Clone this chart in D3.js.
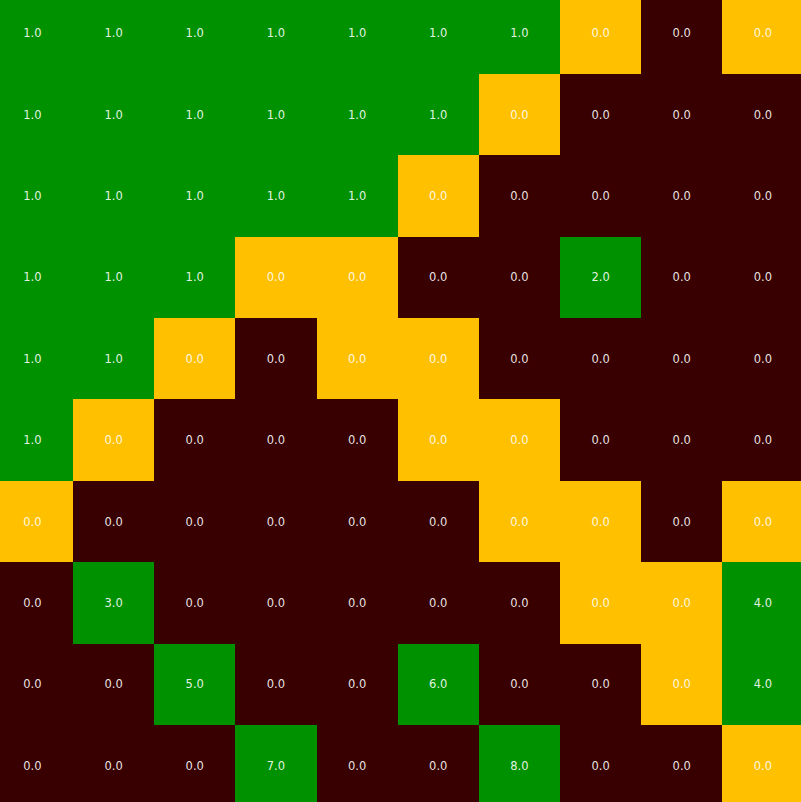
<!DOCTYPE html>
<html>
<head>
<meta charset="utf-8">
<script src="https://cdn.jsdelivr.net/npm/d3@7"></script>
<style>
  html, body { margin: 0; padding: 0; background: #ffffff; overflow: hidden; }
  svg { display: block; }
</style>
</head>
<body>
<svg id="chart" width="801" height="802"></svg>
<script>
// Cell values (row by row, top to bottom)
const values = [
  [1,1,1,1,1,1,1,0,0,0],
  [1,1,1,1,1,1,0,0,0,0],
  [1,1,1,1,1,0,0,0,0,0],
  [1,1,1,0,0,0,0,2,0,0],
  [1,1,0,0,0,0,0,0,0,0],
  [1,0,0,0,0,0,0,0,0,0],
  [0,0,0,0,0,0,0,0,0,0],
  [0,3,0,0,0,0,0,0,0,4],
  [0,0,5,0,0,6,0,0,0,4],
  [0,0,0,7,0,0,8,0,0,0]
];
// Cell state: "g" = filled (green), "y" = frontier (amber), "d" = empty (dark)
const states = [
  ["g","g","g","g","g","g","g","y","d","y"],
  ["g","g","g","g","g","g","y","d","d","d"],
  ["g","g","g","g","g","y","d","d","d","d"],
  ["g","g","g","y","y","d","d","g","d","d"],
  ["g","g","y","d","y","y","d","d","d","d"],
  ["g","y","d","d","d","y","y","d","d","d"],
  ["y","d","d","d","d","d","y","y","d","y"],
  ["d","g","d","d","d","d","d","y","y","g"],
  ["d","d","g","d","d","g","d","d","y","g"],
  ["d","d","d","g","d","d","g","d","d","y"]
];
const stateKeys = ["g","y","d"];
const stateColors = ["#009100","#ffc000","#380000"];

const nRows = values.length, nCols = values[0].length;
const cells = [];
for (let r = 0; r < nRows; r++)
  for (let c = 0; c < nCols; c++)
    cells.push({r, c, v: values[r][c], s: states[r][c]});

const svg = d3.select("#chart");
const x = d3.scaleBand().domain(d3.range(nCols)).range([-8.16, 803.5]).padding(0);
const y = d3.scaleBand().domain(d3.range(nRows)).range([-7.45, 806.4]).padding(0);
const color = d3.scaleOrdinal().domain(stateKeys).range(stateColors);

svg.append("g").attr("shape-rendering", "crispEdges")
  .selectAll("rect").data(cells).join("rect")
  .attr("x", d => x(d.c))
  .attr("y", d => y(d.r))
  .attr("width", x.bandwidth() + 0.6)
  .attr("height", y.bandwidth() + 0.6)
  .attr("fill", d => color(d.s));

svg.append("g").selectAll("text").data(cells).join("text")
  .attr("x", d => x(d.c) + x.bandwidth() / 2)
  .attr("y", d => y(d.r) + y.bandwidth() / 2)
  .attr("text-anchor", "middle")
  .attr("dominant-baseline", "central")
  .attr("font-family", "DejaVu Sans, sans-serif")
  .attr("font-size", "11.5px")
  .attr("fill", "#ffffff")
  .attr("fill-opacity", 0.9)
  .text(d => d3.format(".1f")(d.v));
</script>
</body>
</html>
